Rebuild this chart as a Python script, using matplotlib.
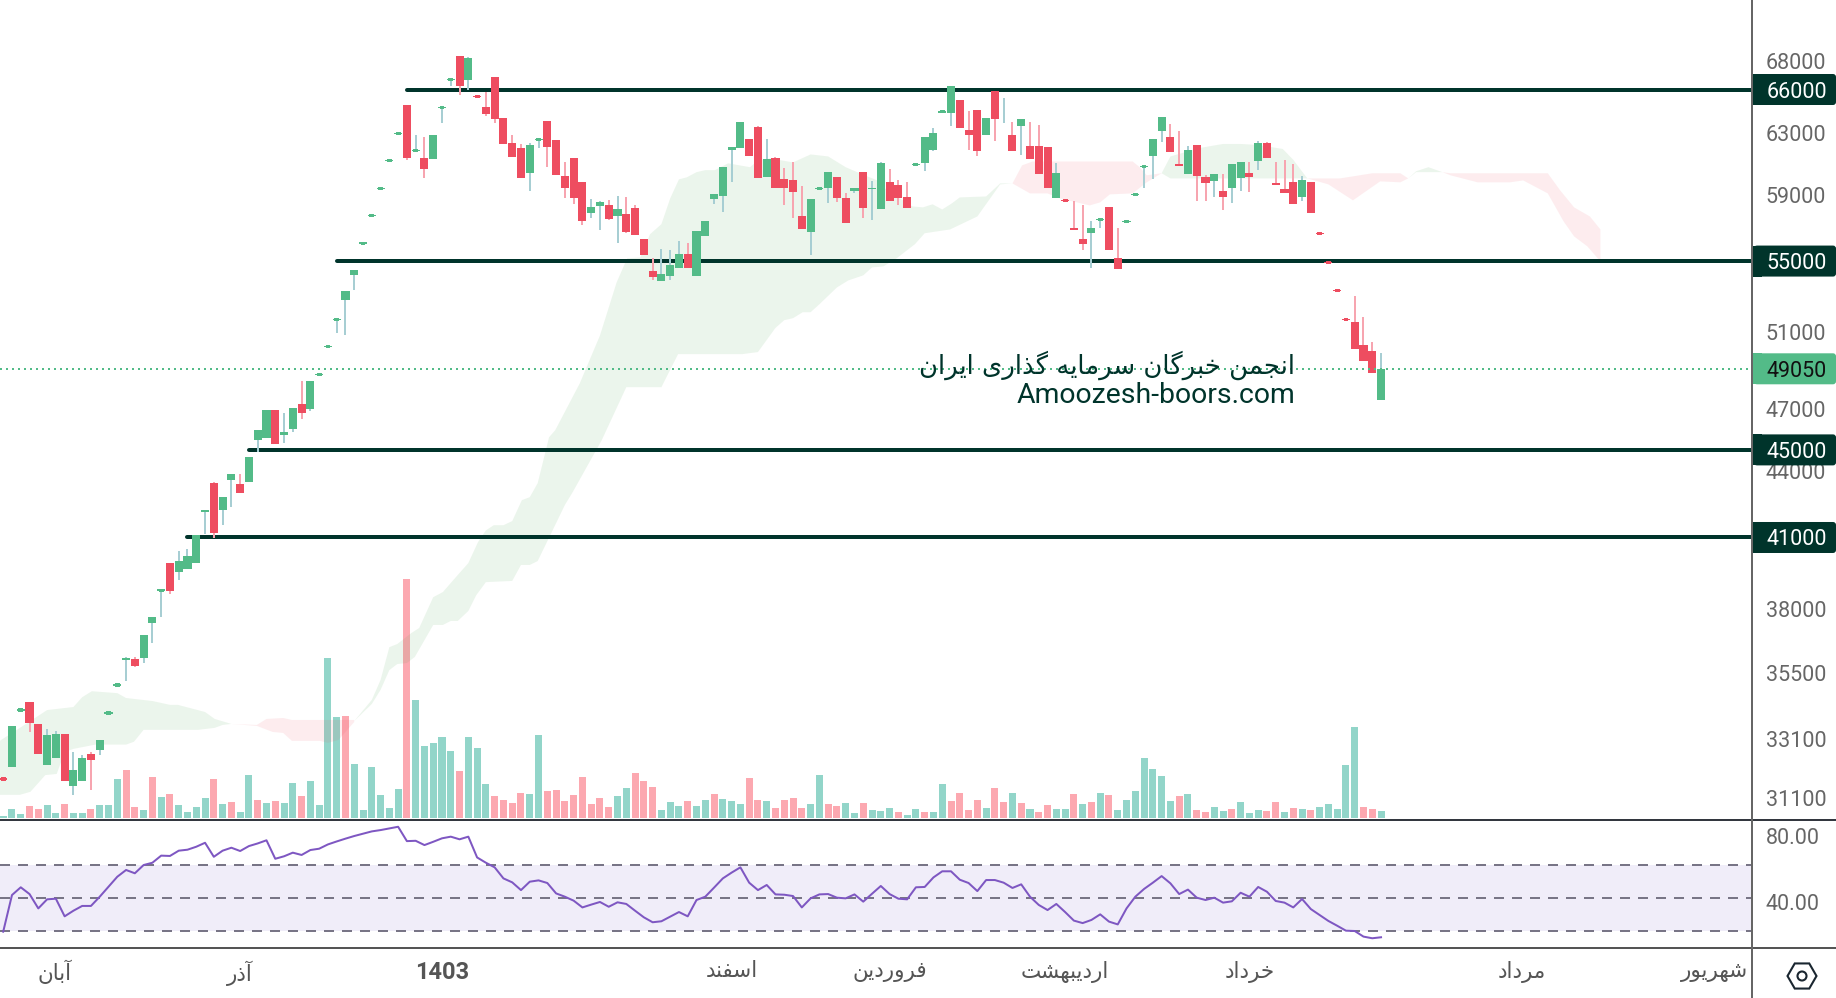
import numpy as np
import matplotlib
matplotlib.use("Agg")
import matplotlib.pyplot as plt
from matplotlib.patches import FancyBboxPatch, Rectangle, RegularPolygon, Circle

plt.rcParams["font.family"] = ["Roboto", "DejaVu Sans"]

# daily candles
opens = [31720, 32130, 34130, 34425, 33630, 32200, 32435, 33275, 31470, 31655, 32575, 32710, 34025, 35055, 36000, 36030, 36070, 37440, 38770, 39900,
         39520, 39645, 39900, 42140, 43435, 42210, 43575, 43390, 43480, 45465, 45560, 46940, 45700, 46000, 47240, 46990, 48770, 50240, 51700, 52750,
         54170, 56060, 57730, 59420, 61210, 62970, 64890, 61860, 61340, 61275, 64750, 66700, 68400, 66700, 65510, 64750, 66915, 64000, 62320, 61990,
         60380, 62590, 63860, 62520, 60180, 61340, 59800, 57860, 58290, 58350, 57670, 57800, 58165, 56285, 54400, 53830, 54110, 54580, 55390, 54110,
         56460, 58730, 58910, 61860, 61990, 62590, 63420, 60120, 61340, 59990, 59920, 57670, 56710, 59420, 59470, 60120, 58790, 59230, 60450, 59400,
         58100, 59800, 59600, 58850, 60950, 61020, 61860, 64450, 64390, 65300, 63220, 64590, 62900, 65930, 63670, 62900, 63480, 62130, 62130, 62060,
         58790, 58665, 56940, 56285, 56650, 57490, 58230, 55155, 57370, 59040, 60830, 61470, 63160, 62780, 60950, 60320, 62190, 60120, 59860, 59230,
         59470, 60050, 60380, 61140, 62320, 59730, 59360, 59800, 58850, 59800, 56650, 54920, 53320, 51700, 51540, 50290, 49980, 47440]
closes = [31720, 33560, 34130, 33665, 32575, 33240, 33275, 31655, 32030, 32435, 32370, 33063, 34025, 35055, 36060, 35780, 36960, 37676, 38770, 38730,
          39985, 40195, 41100, 42200, 41190, 42795, 43850, 42985, 44650, 45950, 46940, 45280, 45850, 47040, 46790, 48400, 48770, 50240, 51700, 53260,
          54460, 56060, 57730, 59420, 61210, 62970, 61340, 61860, 60640, 62900, 64750, 66700, 66280, 68250, 65510, 64320, 63930, 62260, 61400, 60050,
          62190, 62590, 62060, 60250, 59470, 58790, 57370, 58230, 58540, 57490, 58100, 56710, 56530, 55330, 54060, 54230, 54750, 55390, 54580, 56770,
          57370, 59040, 60770, 62060, 63730, 61470, 60050, 61275, 59470, 59420, 59170, 56880, 58730, 59420, 60450, 58790, 57260, 59420, 58165, 59440,
          61020, 58600, 58790, 58165, 60950, 62780, 63030, 64450, 66280, 63350, 62900, 61800, 64000, 63930, 63670, 61800, 63930, 61275, 60320, 59470,
          60380, 58665, 56820, 56000, 56940, 57490, 55650, 54520, 57370, 59040, 60830, 62650, 64130, 61730, 60830, 61920, 60180, 59730, 60320, 58850,
          60950, 61080, 60120, 62320, 61340, 59600, 59100, 58420, 59920, 57860, 56650, 54920, 53320, 51700, 50080, 49440, 48820, 49050]
highs = [31720, 33560, 34130, 34425, 33630, 33450, 33380, 33275, 32645, 32540, 32645, 33063, 34025, 35055, 36100, 36100, 36960, 37676, 38770, 39900,
         40410, 40495, 41100, 42200, 43480, 42795, 43850, 43850, 44650, 45950, 46940, 46940, 46800, 47040, 48400, 48400, 48770, 50240, 51700, 53260,
         54460, 56060, 57730, 59420, 61210, 62970, 64890, 62900, 62780, 62900, 64750, 66700, 68400, 68330, 65510, 65860, 66915, 64000, 62900, 62260,
         62320, 62590, 63860, 62520, 61080, 61340, 59800, 58730, 58600, 58665, 58910, 58850, 58350, 56285, 55155, 55700, 55650, 56160, 56060, 56770,
         57370, 59040, 60770, 62060, 63730, 62590, 63470, 62590, 61400, 60710, 61080, 59540, 58730, 59420, 60450, 60120, 59100, 59470, 60450, 59860,
         61080, 60640, 59920, 59800, 60950, 62780, 63350, 64450, 66280, 65300, 64520, 64590, 64000, 65930, 65440, 63730, 63930, 63730, 63540, 62060,
         61020, 58665, 58600, 58350, 57370, 57490, 58230, 56940, 57370, 59040, 60830, 62650, 64130, 63610, 63160, 62130, 62190, 60250, 60320, 60320,
         60950, 61080, 61080, 62460, 62390, 61080, 61210, 60950, 60180, 59800, 56650, 54920, 53320, 51700, 52980, 51810, 50450, 49880]
lows = [31720, 32130, 34130, 33345, 32575, 32200, 32435, 31655, 31190, 31655, 31355, 32540, 34025, 35055, 35200, 35745, 35880, 36650, 37676, 38610,
        39186, 39645, 39900, 41140, 40970, 41540, 42340, 42985, 43480, 44890, 45560, 45280, 45330, 45850, 46490, 46890, 48770, 50240, 50960, 50850,
        53320, 56060, 57730, 59420, 61210, 62970, 61210, 61860, 60050, 61275, 63670, 66280, 65650, 66000, 65510, 64180, 63670, 62260, 61400, 60050,
        59230, 61990, 60770, 60250, 58790, 58420, 57150, 57550, 56820, 57430, 56060, 56650, 56530, 55330, 53885, 53830, 53885, 54580, 54580, 54110,
        56460, 58420, 57920, 59800, 61990, 61470, 60050, 60120, 59470, 58350, 57550, 56880, 55330, 59420, 58480, 58540, 57260, 59100, 57550, 57430,
        58100, 58600, 58350, 58165, 60950, 60510, 61800, 64450, 63470, 63350, 61920, 61470, 62900, 62460, 63670, 61800, 61530, 61275, 60320, 59470,
        58790, 58665, 56820, 55650, 54580, 56940, 55650, 54520, 57370, 59040, 59420, 59990, 62390, 61730, 60830, 60320, 58600, 58600, 58850, 58040,
        58480, 59230, 59170, 60570, 61340, 59600, 59100, 58420, 58600, 57860, 56650, 54920, 53320, 51700, 50080, 49440, 48820, 47440]
doji_idx = [0, 2, 12, 13, 18, 36, 37, 38, 41, 42, 43, 44, 45, 47, 50, 51, 54, 61, 93, 104, 107, 121, 125, 128, 129, 130, 150, 151, 152, 153]
red_doji = [0, 54, 121, 150, 151, 152, 153]

volumes = [2, 9, 4, 12, 9, 13, 5, 14, 5, 5, 9, 13, 13, 39, 48, 11, 8, 41, 21, 24,
           13, 6, 11, 20, 39, 14, 16, 6, 43, 18, 15, 17, 15, 35, 22, 37, 13, 160, 101, 102,
           54, 8, 51, 23, 10, 29, 239, 118, 72, 75, 81, 67, 47, 81, 70, 34, 22, 18, 15, 25,
           24, 83, 27, 28, 17, 23, 41, 14, 20, 11, 22, 30, 45, 37, 31, 8, 16, 12, 17, 12,
           18, 24, 19, 17, 14, 40, 18, 17, 10, 18, 20, 10, 14, 43, 14, 12, 15, 5, 15, 8,
           7, 10, 6, 3, 9, 6, 6, 34, 17, 25, 8, 18, 10, 30, 16, 25, 15, 9, 6, 13,
           9, 9, 24, 14, 16, 25, 23, 8, 18, 27, 60, 49, 42, 17, 22, 24, 8, 6, 11, 7,
           9, 16, 5, 8, 7, 16, 6, 10, 9, 8, 11, 14, 9, 53, 91, 11, 9, 7]
vol_colors = ("gggrrggrgg" "rgggrrgrgr" "ggggrgrggr" "grggrggggr" "ggggggrggg" "ggrgggrrrr" "ggrrrrrrrr" "ggrrrgggrg"
              "grgggrrgrr" "rrggrrggrg" "ggrggrggrr" "rrgrrgrgrr" "ggrgrgrggg" "ggggrgrrgg" "rgggrrgrgr" "gggggrrg")

rsi = [29.6, 51.8, 56.5, 52.4, 43.7, 49.2, 49.6, 38.9, 42.3, 45.2, 45.2, 50.8, 56.9, 62.9, 67, 65, 70, 71.4, 75.7, 75.5,
       78.7, 79.3, 81.1, 83.5, 75, 78.7, 80.5, 78.5, 81.5, 83.1, 85, 73.8, 75.3, 77.5, 76.1, 79.1, 79.9, 82.5, 84.3, 86,
       87.6, 89, 90.4, 91.2, 92.2, 93.2, 84.5, 84.7, 82.1, 84.1, 86.2, 87.2, 85.6, 87.2, 74.6, 71.4, 68.6, 61.9, 59.5, 54.8,
       59.9, 60.7, 59.1, 52.8, 50.8, 48.4, 44.3, 46, 47.6, 44.7, 47.4, 46.4, 42.3, 38.3, 35.3, 35.9, 38.7, 41.5, 38.9, 48.8,
       50.8, 56.3, 61.9, 65.4, 68.6, 59.3, 54.8, 57.9, 52.2, 52, 51.2, 44.3, 49.8, 52.2, 52.4, 50.2, 49.8, 52.2, 47.8, 52.6,
       57.3, 52.4, 49.6, 49.2, 56.5, 56.7, 62.5, 66.2, 66.2, 61.1, 59.1, 54.2, 60.9, 60.9, 59.3, 56.1, 58.3, 50.8, 45.8, 42.7,
       46.4, 41.5, 36.3, 34.8, 36.7, 40.1, 35.7, 34, 43.7, 50.8, 55.5, 59.3, 63.3, 58.9, 52.4, 55.1, 50.2, 48.8, 50.2, 47.2,
       48, 53.2, 50.8, 56.7, 53.8, 48.2, 47.2, 44.3, 49.4, 43.3, 39.7, 36.1, 33.2, 30.2, 30, 26.6, 25.6, 26.2]

# ichimoku cloud, one (x, upper, lower) set per coloured stretch
green_a_ux = [-0.4, 1.9, 5, 8, 9, 10.1, 13, 14, 17, 19, 19.9, 23, 24.1, 26]
green_a_up = [33030, 33490, 34130, 34240, 34600, 34820, 34750, 34570, 34460, 34320, 34320, 34060, 33810, 33630]
green_a_lx = [-0.4, 1.9, 3.1, 4.8, 6.1, 7, 8, 10.5, 14, 14.9, 16, 22.2, 24.1, 25, 26]
green_a_lo = [31190, 31190, 31290, 31850, 31890, 32645, 32750, 32900, 32900, 33000, 33420, 33420, 33490, 33595, 33630]

red_b_ux = [26, 28.9, 30, 31.9, 32.9, 40]
red_b_up = [33630, 33595, 33810, 33845, 33773, 33773]
red_b_lx = [26, 28.9, 30.7, 31.9, 32.9, 36.1, 37, 38.2, 40]
red_b_lo = [33630, 33560, 33345, 33310, 33030, 33030, 32960, 33063, 33700]

green_c_ux = [40, 42, 43, 44, 44.9, 46.5, 47.4, 49, 50.1, 51.3, 51.8, 53, 54.1, 55, 55.9, 57, 58, 59.1, 60, 60.9, 62.2, 62.9, 65.7, 68, 69.9, 71.1, 72.6, 73.7,
              75, 76, 77, 77.9, 79, 80, 81.1, 82.6, 85.1, 86, 87.4, 90, 92, 94, 96, 97.6, 99.6, 100.7, 103.6, 104.8, 105.9, 107, 108.1, 109, 112, 113.6, 115]
green_c_up = [33735, 34500, 35240, 36490, 36610, 37040, 37240, 38480, 38690, 39190, 39400, 39900, 40800, 41310, 41540, 41540, 41720, 42660, 42795, 43435, 45610, 45950,
              48300, 50820, 53770, 55160, 55210, 56590, 57200, 58785, 59990, 60120, 60450, 60580, 60580, 61020, 60770, 61210, 61340, 61080, 61600, 61470, 60770, 60380, 59920,
              59300, 58290, 58230, 58420, 58100, 58480, 58850, 58910, 59730, 59730]
green_c_lx = [40, 42, 43, 44, 44.9, 46, 46.9, 49, 50.1, 51, 51.8, 53, 53.9, 55, 58, 59, 60, 60.9, 62.6, 64, 64.9, 68.2, 71, 75, 76.9, 84.2, 86, 88, 89, 90, 91.1, 92,
              93, 95, 96.3, 98, 99, 100.3, 101.8, 103.9, 105, 107.9, 111, 113.6, 115]
green_c_lo = [33735, 34350, 34870, 35610, 35840, 35880, 36110, 37360, 37360, 37520, 37520, 37920, 38560, 39100, 39150, 39820, 39820, 39985, 41310, 42440, 43030, 45465,
              48100, 48100, 49820, 49820, 49930, 51230, 51650, 51760, 52090, 52090, 52530, 53480, 53880, 54170, 54630, 54690, 55160, 56000, 56650, 56880, 57670, 59670, 59730]

red_d_ux = [115, 116.1, 117.3, 128.7, 129.5, 130.3, 132]
red_d_up = [59730, 60890, 61140, 61140, 60770, 60250, 60380]
red_d_lx = [115, 117, 119, 120.4, 123.8, 125, 126.1, 128.7, 130.3, 132]
red_d_lo = [59730, 59100, 59100, 58790, 58350, 58540, 59040, 59100, 59800, 60380]

green_e_ux = [132, 133, 136.4, 139, 141, 143, 145.8, 147, 148.6]
green_e_up = [60380, 61470, 62030, 62290, 62290, 62220, 61960, 61250, 60050]
green_e_lx = [132, 133, 148.6]
green_e_lo = [60380, 60050, 60050]

red_f_ux = [148.6, 152.3, 153.8, 156, 159.2, 160.1]
red_f_up = [60050, 60050, 60180, 60380, 60380, 60050]
red_f_lx = [148.6, 151, 153.8, 156.9, 159.2, 160.1]
red_f_lo = [60050, 59670, 58665, 59860, 59800, 60050]

green_g_ux = [160.1, 161, 162.4, 164]
green_g_up = [60050, 60510, 60770, 60450]
green_g_lx = [160.1, 161, 164]
green_g_lo = [60050, 60450, 60450]

red_h_ux = [164, 164.9, 176, 177.4, 179, 180.8, 182]
red_h_up = [60450, 60380, 60380, 59300, 58230, 57670, 56880]
red_h_lx = [164, 164.9, 168, 171.7, 173.2, 176, 177.8, 179, 180.5, 182]
red_h_lo = [60450, 60250, 59800, 59800, 59920, 59100, 57370, 56460, 55870, 54980]

# horizontal levels: price, first candle the line starts from
levels = [66000, 55000, 45000, 41000]
level_starts = [46.05, 38.05, 28.05, 20.95]
last_price = 49050

price_ticks = [68000, 63000, 59000, 51000, 47000, 44000, 38000, 35500, 33100, 31100]
rsi_ticks = [80, 40]
rsi_levels = [70, 50, 30]
month_pos = [5.9, 27, 50, 83, 101, 121, 142, 173, 195]
month_labels = ["آبان", "آذر", "1403", "اسفند", "فروردین", "اردیبهشت", "خرداد", "مرداد", "شهریور"]
watermark_fa = "انجمن خبرگان سرمایه گذاری ایران"
watermark_en = "Amoozesh-boors.com"

GREEN = "#53bb88"
RED = "#ee4d60"
DARK = "#00342b"
TICK = "#666666"

# iso, final, initial, medial; matplotlib does no arabic shaping by itself
FORMS = {
    "ا": (0xFE8D, 0xFE8E), "آ": (0xFE81, 0xFE82), "د": (0xFEA9, 0xFEAA), "ذ": (0xFEAB, 0xFEAC),
    "ر": (0xFEAD, 0xFEAE), "ز": (0xFEAF, 0xFEB0), "و": (0xFEED, 0xFEEE),
    "ب": (0xFE8F, 0xFE90, 0xFE91, 0xFE92), "ت": (0xFE95, 0xFE96, 0xFE97, 0xFE98),
    "ج": (0xFE9D, 0xFE9E, 0xFE9F, 0xFEA0), "خ": (0xFEA5, 0xFEA6, 0xFEA7, 0xFEA8),
    "س": (0xFEB1, 0xFEB2, 0xFEB3, 0xFEB4), "ش": (0xFEB5, 0xFEB6, 0xFEB7, 0xFEB8),
    "ف": (0xFED1, 0xFED2, 0xFED3, 0xFED4), "گ": (0xFB92, 0xFB93, 0xFB94, 0xFB95),
    "م": (0xFEE1, 0xFEE2, 0xFEE3, 0xFEE4), "ن": (0xFEE5, 0xFEE6, 0xFEE7, 0xFEE8),
    "ه": (0xFEE9, 0xFEEA, 0xFEEB, 0xFEEC), "ی": (0xFBFC, 0xFBFD, 0xFBFE, 0xFBFF),
}


def shape_fa(text):
    if text.isdigit():
        return text
    out = []
    for i, ch in enumerate(text):
        if ch not in FORMS:
            out.append(ch)
            continue
        prev = text[i - 1] if i > 0 else " "
        nxt = text[i + 1] if i + 1 < len(text) else " "
        after_join = prev in FORMS and len(FORMS[prev]) == 4
        before_join = len(FORMS[ch]) == 4 and nxt in FORMS
        if after_join and before_join:
            code = FORMS[ch][3]
        elif after_join:
            code = FORMS[ch][1]
        elif before_join:
            code = FORMS[ch][2]
        else:
            code = FORMS[ch][0]
        out.append(chr(code))
    return "".join(out[::-1])


W, H = 1836, 998
AXIS_X, MAIN_B, RSI_B = 1752, 819, 947
fig = plt.figure(figsize=(W / 100, H / 100), dpi=100, facecolor="white")
rect_main = [0, 1 - MAIN_B / H, AXIS_X / W, MAIN_B / H]
ax_vol = fig.add_axes(rect_main, zorder=1)
ax = fig.add_axes(rect_main, zorder=2)
ax_rsi = fig.add_axes([0, 1 - RSI_B / H, AXIS_X / W, (RSI_B - 821) / H], zorder=2)
xlim = (-0.365, 199.27)

x = np.arange(len(opens))
opens, closes, highs, lows = map(np.array, (opens, closes, highs, lows))

# volume underneath everything
ax_vol.bar(x, volumes, width=0.8, color=["#92d5c9" if c == "g" else "#fca8b0" for c in vol_colors])
ax_vol.set_xlim(xlim)
ax_vol.set_ylim(-1.5, MAIN_B - 1.5)
ax_vol.axis("off")

ax.patch.set_visible(False)
ax.set_yscale("log")
ax.set_xlim(xlim)
ax.set_ylim(30399, 72586)
for side in ax.spines.values():
    side.set_visible(False)

for ux, up, lx, lo, col in [
    (green_a_ux, green_a_up, green_a_lx, green_a_lo, "#43a047"),
    (red_b_ux, red_b_up, red_b_lx, red_b_lo, "#ee4d60"),
    (green_c_ux, green_c_up, green_c_lx, green_c_lo, "#43a047"),
    (red_d_ux, red_d_up, red_d_lx, red_d_lo, "#ee4d60"),
    (green_e_ux, green_e_up, green_e_lx, green_e_lo, "#43a047"),
    (red_f_ux, red_f_up, red_f_lx, red_f_lo, "#ee4d60"),
    (green_g_ux, green_g_up, green_g_lx, green_g_lo, "#43a047"),
    (red_h_ux, red_h_up, red_h_lx, red_h_lo, "#ee4d60"),
]:
    ax.fill(ux + lx[::-1], up + lo[::-1], color=col, alpha=0.10, lw=0, zorder=2)

for lev, start in zip(levels, level_starts):
    ax.plot([start, xlim[1]], [lev, lev], color=DARK, lw=4 * 0.72, solid_capstyle="round", zorder=3)

# candles
up_mask = np.array([c >= o and i not in red_doji for i, (o, c) in enumerate(zip(opens, closes))])
ax.vlines(x, lows, highs, colors=np.where(up_mask, "#a7ced3", "#f7a5b0"), lw=2 * 0.72, zorder=4)
body_col = np.where(up_mask, GREEN, RED)
plain = np.array([i not in doji_idx for i in x])
lo_body = np.minimum(opens, closes)
hi_body = np.maximum(opens, closes)
ax.bar(x[plain], (hi_body - lo_body)[plain], bottom=lo_body[plain], width=0.92, color=body_col[plain], zorder=5)
# doji get a hairline with a small blob on it
d = np.array(doji_idx)
ax.bar(d, opens[d] * 0.0014, bottom=opens[d] * 0.9993, width=0.92, color=body_col[d], zorder=5)
ax.bar(d, opens[d] * 0.0034, bottom=opens[d] * 0.9983, width=0.55, color=body_col[d], zorder=5)

ax.plot([xlim[0], xlim[1]], [last_price, last_price], color=GREEN, lw=2 * 0.72, ls=(0, (1, 2)), zorder=6)

ax.text(1295 / 8.776 - 0.365, 49250, shape_fa(watermark_fa), family=["DejaVu Sans"], fontsize=18.6, color=DARK,
        ha="right", va="center", zorder=7)
ax.text(1295 / 8.776 - 0.365, 47700, watermark_en, fontsize=20.4, color=DARK, ha="right", va="center", zorder=7)

ax.yaxis.tick_right()
ax.set_yticks(price_ticks)
ax.set_yticklabels([str(t) for t in price_ticks])
ax.set_yticks([], minor=True)
ax.set_xticks([])
ax.tick_params(axis="y", length=0, pad=10, labelsize=15.5, labelcolor=TICK)

# RSI pane
ax_rsi.set_xlim(xlim)
ax_rsi.set_ylim(20.3, 96.7)
ax_rsi.axhspan(rsi_levels[2], rsi_levels[0], color="#f0edf9", lw=0, zorder=1)
for lev in rsi_levels:
    ax_rsi.axhline(lev, color="#787586", lw=2 * 0.72, ls=(0, (5, 4)), zorder=2)
ax_rsi.plot(x, rsi, color="#7e57c2", lw=2 * 0.72, zorder=3)
for side in ax_rsi.spines.values():
    side.set_visible(False)
ax_rsi.yaxis.tick_right()
ax_rsi.set_yticks(rsi_ticks)
ax_rsi.set_yticklabels([f"{t:.2f}" for t in rsi_ticks])
for lab in ax_rsi.get_yticklabels():
    lab.set_verticalalignment("bottom")
ax_rsi.tick_params(axis="y", length=0, pad=10, labelsize=15.5, labelcolor=TICK)
ax_rsi.set_xticks(month_pos)
ax_rsi.set_xticklabels([shape_fa(m) for m in month_labels])
ax_rsi.tick_params(axis="x", length=0, pad=10, labelsize=15.5, labelcolor="#555555")
for lab, name in zip(ax_rsi.get_xticklabels(), month_labels):
    if name.isdigit():
        lab.set_fontweight("bold")
        lab.set_fontsize(17)

# separators, price badges and the settings icon, in pixels
pix = fig.add_axes([0, 0, 1, 1], zorder=5)
pix.set_xlim(0, W)
pix.set_ylim(H, 0)
pix.axis("off")
pix.plot([0, W], [820, 820], color="#33373f", lw=2 * 0.72)
pix.plot([0, W], [948, 948], color="#555555", lw=2 * 0.72)


def badge(price, fill, text_col):
    y = H - ax.transData.transform((0, price))[1]
    pix.add_patch(Rectangle((AXIS_X, y - 15.5), 10, 31, color=fill, lw=0))
    pix.add_patch(FancyBboxPatch((AXIS_X + 2, y - 15.5), W - AXIS_X - 2, 31, boxstyle="round,pad=0,rounding_size=3",
                                 fc=fill, ec="none", clip_on=False))
    pix.text(1797, y, str(price), color=text_col, fontsize=15.5, ha="center", va="center_baseline")


for lev in levels:
    badge(lev, DARK, "white")
badge(last_price, GREEN, "#111111")
pix.plot([AXIS_X, AXIS_X], [0, H], color="#666666", lw=2 * 0.72)

pix.add_patch(RegularPolygon((1802, 976), 6, radius=14.5, orientation=np.pi / 2, fc="none", ec="#1a2630", lw=1.5))
pix.add_patch(Circle((1802, 976), 4.5, fc="none", ec="#1a2630", lw=1.5))

fig.savefig("out.png", dpi=100)
